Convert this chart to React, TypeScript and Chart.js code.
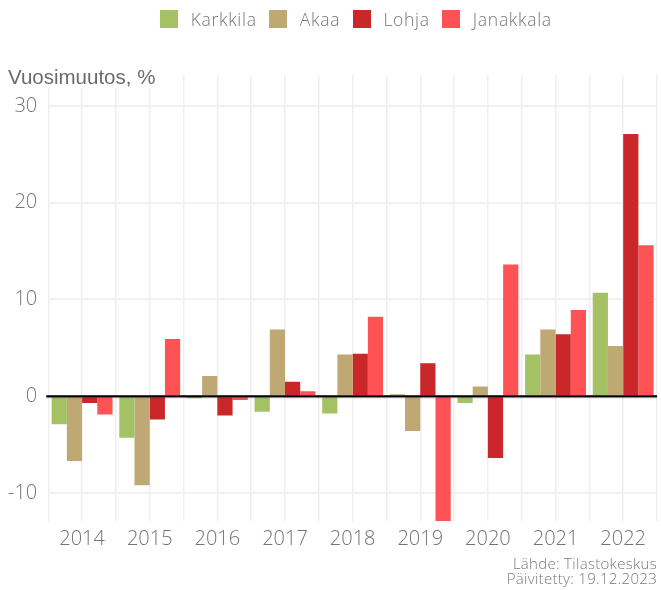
import React, { useEffect, useRef } from "react";
import { Chart, registerables } from "chart.js";

Chart.register(...registerables);

const categories = ["2014", "2015", "2016", "2017", "2018", "2019", "2020", "2021", "2022"];
const karkkila = [-2.9, -4.3, -0.2, -1.6, -1.8, 0.2, -0.7, 4.3, 10.7];
const akaa = [-6.7, -9.2, 2.1, 6.9, 4.3, -3.6, 1.0, 6.9, 5.2];
const lohja = [-0.7, -2.4, -2.0, 1.5, 4.4, 3.4, -6.4, 6.4, 27.1];
const janakkala = [-1.9, 5.9, -0.4, 0.5, 8.2, -13.5, 13.6, 8.9, 15.6];
const seriesNames = ["Karkkila", "Akaa", "Lohja", "Janakkala"];
const seriesColors = ["#a4c263", "#bfa874", "#c9272a", "#ff5254"];
const yTicks = [-10, 0, 10, 20, 30];
const yMin = -12.9;
const yMax = 33.2;
const axisTitle = "Vuosimuutos, %";
const sourceLines = ["Lähde: Tilastokeskus", "Päivitetty: 19.12.2023"];

const LIGHT = "'Open Sans', Lato, sans-serif";
const GRID = "#efefef";
const TEXT = "#747474";

const zeroLine = {
  id: "zeroLine",
  afterDatasetsDraw(chart: any) {
    const { ctx, chartArea, scales } = chart;
    const y = scales.y.getPixelForValue(0);
    ctx.save();
    ctx.strokeStyle = "rgba(0,0,0,0.35)";
    ctx.lineWidth = 1;
    ctx.beginPath();
    ctx.moveTo(chartArea.left - 2, y + 1.5);
    ctx.lineTo(chartArea.right, y + 1.5);
    ctx.stroke();
    ctx.strokeStyle = "#000";
    ctx.lineWidth = 2;
    ctx.beginPath();
    ctx.moveTo(chartArea.left - 2, y);
    ctx.lineTo(chartArea.right, y);
    ctx.stroke();
    ctx.restore();
  },
};

export default function App() {
  const ref = useRef<HTMLCanvasElement | null>(null);

  useEffect(() => {
    if (!ref.current) return;
    const series = [karkkila, akaa, lohja, janakkala];
    const chart = new Chart(ref.current, {
      type: "bar",
      data: {
        labels: categories,
        datasets: series.map((d, i) => ({
          label: seriesNames[i],
          data: d,
          backgroundColor: seriesColors[i],
          borderWidth: 0,
          categoryPercentage: 0.9,
          barPercentage: 1.0,
          xAxisID: "x",
        })),
      },
      options: {
        animation: false,
        responsive: true,
        maintainAspectRatio: false,
        layout: { padding: { top: 75, left: -3, right: 4, bottom: 33 } },
        plugins: {
          legend: { display: false },
          tooltip: { enabled: false },
          title: { display: false },
        },
        scales: {
          x: {
            type: "category",
            offset: true,
            grid: { offset: true, color: GRID, lineWidth: 1.5, drawTicks: false },
            border: { display: false },
            ticks: {
              font: { family: LIGHT, size: 20, weight: "300" as any },
              color: TEXT,
              padding: 6,
              maxRotation: 0,
              autoSkip: false,
            },
          },
          x2: {
            type: "category",
            labels: categories,
            offset: true,
            position: "bottom",
            grid: { offset: false, color: GRID, lineWidth: 1.5, drawTicks: false },
            border: { display: false },
            ticks: { display: false },
          },
          y: {
            min: yMin,
            max: yMax,
            afterBuildTicks: (axis: any) => {
              axis.ticks = yTicks.map((v) => ({ value: v }));
            },
            grid: { color: "#f1f1f1", lineWidth: 2, drawTicks: false },
            border: { display: false },
            ticks: {
              font: { family: LIGHT, size: 20, weight: "300" as any },
              color: TEXT,
              padding: 11,
            },
          },
        },
      },
      plugins: [zeroLine],
    });
    return () => chart.destroy();
  }, []);

  return (
    <div style={{ position: "absolute", left: 0, top: 0, width: 661, height: 590, background: "#fff" }}>
      <canvas ref={ref} />
      <div
        style={{
          position: "absolute",
          left: 160,
          top: 10,
          display: "flex",
          alignItems: "center",
          fontFamily: LIGHT,
          fontWeight: 300,
          fontSize: 17.5,
          letterSpacing: "0.7px",
          lineHeight: "18px",
          color: "#767676",
          whiteSpace: "nowrap",
        }}
      >
        {seriesNames.map((n, i) => (
          <div key={n} style={{ display: "flex", alignItems: "center", marginRight: 12.5 }}>
            <span style={{ display: "inline-block", width: 18, height: 18, background: seriesColors[i], marginRight: 12.7 }} />
            <span>{n}</span>
          </div>
        ))}
      </div>
      <div
        style={{
          position: "absolute",
          left: 8,
          top: 67,
          fontFamily: "'Liberation Sans', Arial, sans-serif",
          fontSize: 20.5,
          lineHeight: 1,
          color: "#6b6b6b",
          background: "#fff",
          paddingRight: 2,
          whiteSpace: "nowrap",
        }}
      >
        {axisTitle}
      </div>
      <div
        style={{
          position: "absolute",
          right: 4,
          top: 556,
          textAlign: "right",
          fontFamily: LIGHT,
          fontWeight: 300,
          fontSize: 15,
          letterSpacing: "0.3px",
          lineHeight: "15px",
          color: "#7a7a7a",
          whiteSpace: "nowrap",
        }}
      >
        {sourceLines.map((l) => (
          <div key={l}>{l}</div>
        ))}
      </div>
    </div>
  );
}
